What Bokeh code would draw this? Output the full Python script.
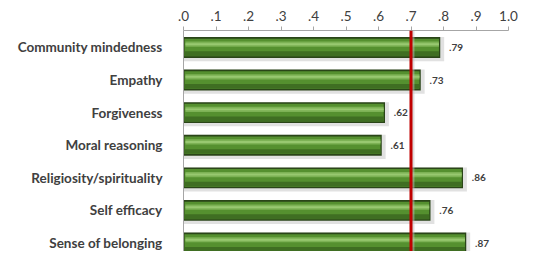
from bokeh.plotting import figure
from bokeh.models import ColumnDataSource, Range1d, Span, FixedTicker
from bokeh.core.properties import value
from bokeh.embed import file_html
from bokeh.resources import INLINE

categories = ["Community mindedness", "Empathy", "Forgiveness", "Moral reasoning",
              "Religiosity/spirituality", "Self efficacy", "Sense of belonging"]
values = [0.79, 0.73, 0.62, 0.61, 0.86, 0.76, 0.87]
labels = [".79", ".73", ".62", ".61", ".86", ".76", ".87"]
tick_values = [0.0, 0.1, 0.2, 0.3, 0.4, 0.5, 0.6, 0.7, 0.8, 0.9, 1.0]
tick_labels = [".0", ".1", ".2", ".3", ".4", ".5", ".6", ".7", ".8", ".9", "1.0"]
threshold = 0.7

pos = list(range(len(categories)))
src = ColumnDataSource(dict(
    pos=pos,
    val=values,
    inner=[v - 0.004 for v in values],
    shadow=[v + 0.012 for v in values],
    pos_shadow=[i + 0.05 for i in pos],
    pos_low=[i + 0.19 for i in pos],
    pos_hi=[i - 0.1 for i in pos],
    lab_x=[v + 0.027 for v in values],
    lab=labels,
))

p = figure(width=527, height=251, output_backend="svg", toolbar_location=None,
           y_range=Range1d(len(categories) - 1 + 0.26, -0.52),
           x_range=Range1d(0, 1.0), x_axis_location="above",
           min_border_left=183, min_border_right=19, min_border_top=30, min_border_bottom=0)
p.outline_line_color = None
p.grid.visible = False
p.background_fill_color = "white"
p.border_fill_color = "white"

# shadow
p.hbar(y="pos_shadow", left=0, right="shadow", height=0.74,
       source=src, fill_color="#c8c8c8", fill_alpha=0.55, line_color=None)
# dark outline
p.hbar(y="pos", left=0, right="val", height=0.64, source=src,
       fill_color="#2a4518", line_color=None)
# main fill
p.hbar(y="pos", left=0.003, right="inner", height=0.54, source=src,
       fill_color="#55902f", line_color=None)
# lower darker band
p.hbar(y="pos_low", left=0.003, right="inner", height=0.14,
       source=src, fill_color="#3f6e22", line_color=None)
# upper highlight
p.hbar(y="pos_hi", left=0.006, right="inner", height=0.16,
       source=src, fill_color="#7db255", line_color=None)
p.hbar(y="pos_hi", left=0.006, right="inner", height=0.06,
       source=src, fill_color="#98c870", line_color=None)

p.text(x="lab_x", y="pos", text="lab", source=src, text_baseline="middle",
       text_align="left", text_font=value("Lato"), text_font_style="bold",
       text_font_size="10px", text_color="#404040")

p.add_layout(Span(location=threshold + 0.006, dimension="height", line_color="#bbbbbb",
                  line_width=3, line_alpha=0.5))
p.add_layout(Span(location=threshold, dimension="height", line_color="#c00000",
                  line_width=3))

xa = p.xaxis[0]
xa.ticker = FixedTicker(ticks=tick_values)
xa.major_label_overrides = {t: l for t, l in zip(tick_values, tick_labels)}
xa.minor_tick_line_color = None
xa.major_tick_in = 0
xa.major_tick_out = 4
xa.major_tick_line_color = "#a6a6a6"
xa.axis_line_color = "#a6a6a6"
xa.major_label_text_font = "Lato"
xa.major_label_text_font_size = "13.5px"
xa.major_label_text_color = "#404040"
xa.major_label_standoff = 6

ya = p.yaxis[0]
ya.ticker = FixedTicker(ticks=pos)
ya.major_label_overrides = {i: c for i, c in zip(pos, categories)}
ya.major_tick_line_color = None
ya.minor_tick_line_color = None
ya.axis_line_color = "#a6a6a6"
ya.major_label_text_font = "Lato"
ya.major_label_text_font_style = "bold"
ya.major_label_text_font_size = "13.5px"
ya.major_label_text_color = "#404040"
ya.major_label_standoff = 15

open("out.html", "w").write(file_html(p, INLINE))
